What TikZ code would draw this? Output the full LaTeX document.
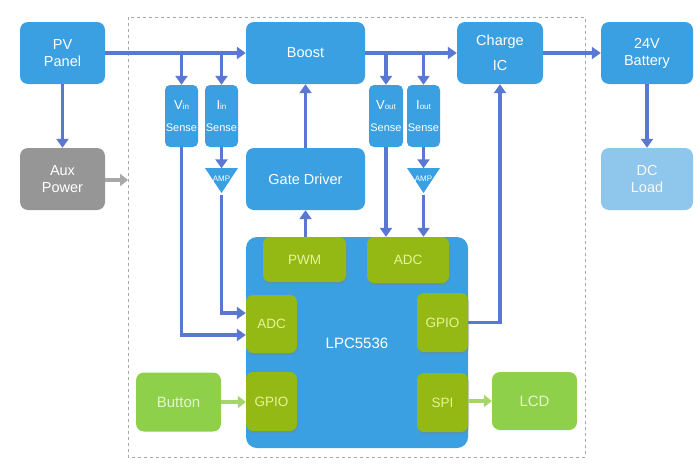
\documentclass[tikz,border=0pt]{standalone}
\usepackage{fontspec}
\setmainfont{Liberation Sans}
\usetikzlibrary{arrows.meta,shadows}
\definecolor{bluebox}{HTML}{3AA0E1}
\definecolor{grayboxc}{HTML}{969696}
\definecolor{loadc}{HTML}{8EC7EB}
\definecolor{modc}{HTML}{94B814}
\definecolor{modtxt}{HTML}{E6F59A}
\definecolor{extg}{HTML}{8ED04A}
\definecolor{extgtxt}{HTML}{E4F7CC}
\definecolor{linec}{HTML}{5A78D2}
\definecolor{greenarr}{HTML}{A6D56A}
\definecolor{grayarr}{HTML}{A8A8A8}
\definecolor{dashc}{HTML}{A8A8A8}
\tikzset{
  bbox/.style={fill=bluebox, rounded corners=8pt, text=white, inner sep=0pt, align=center,
    font=\fontsize{14.5}{17}\selectfont},
  sensebox/.style={bbox, rounded corners=5pt, minimum width=33pt, minimum height=62pt,
    font=\fontsize{11}{22}\selectfont},
  modbox/.style={fill=modc, rounded corners=7pt, text=modtxt, inner sep=0pt,
    font=\fontsize{13.5}{16}\selectfont,
    drop shadow={opacity=0.35, shadow xshift=1pt, shadow yshift=-2pt}},
  extbox/.style={fill=extg, rounded corners=8pt, text=extgtxt, inner sep=0pt,
    font=\fontsize{15}{18}\selectfont, minimum width=85pt, minimum height=59pt},
  conn/.style={draw=linec, line width=3.2pt, -{Triangle[width=12pt,length=9pt]}},
  gconn/.style={draw=greenarr, line width=4pt, -{Triangle[width=12pt,length=8pt]}},
  grconn/.style={draw=grayarr, line width=4pt, -{Triangle[width=12pt,length=8pt]}},
  amptri/.style={fill=bluebox},
  amplabel/.style={text=white, inner sep=0pt, minimum width=33pt, minimum height=24pt,
    font=\fontsize{8}{9}\selectfont},
}
\begin{document}
\begin{tikzpicture}[x=1pt,y=-1pt]
\useasboundingbox (0,0) rectangle (700,463);
\fill[white] (0,0) rectangle (700,463);
% dashed frame
\draw[dashc, dashed, line width=0.8pt] (128,17) rectangle (585,457);

% top row
\node[bbox, minimum width=85pt, minimum height=62pt] (pv) at (62.5,53) {PV\\Panel};
\node[bbox, fill=grayboxc, minimum width=85pt, minimum height=62pt] (aux) at (62.5,179) {Aux\\Power};
\node[bbox, minimum width=119pt, minimum height=62pt] (boost) at (305.5,53) {Boost};
\node[bbox, minimum width=119pt, minimum height=62pt] (gate) at (305.5,179) {Gate Driver};
\node[bbox, minimum width=86pt, minimum height=62pt, font=\fontsize{14.5}{25}\selectfont] (charge) at (500,53) {Charge\\IC};
\node[bbox, minimum width=92pt, minimum height=62pt] (bat) at (647,53) {24V\\Battery};
\node[bbox, fill=loadc, text=white!92!loadc, minimum width=92pt, minimum height=62pt] (load) at (647,179) {DC\\Load};

% sense boxes
\node[sensebox] (vin) at (181.5,116) {{\fontsize{13}{14}\selectfont V}{\fontsize{8}{8}\selectfont in}\\Sense};
\node[sensebox] (iin) at (221.5,116) {{\fontsize{13}{14}\selectfont I}{\fontsize{8}{8}\selectfont in}\\Sense};
\node[sensebox, minimum width=34pt] (vout) at (386,116) {{\fontsize{13}{14}\selectfont V}{\fontsize{8}{8}\selectfont out}\\Sense};
\node[sensebox] (iout) at (423.5,116) {{\fontsize{13}{14}\selectfont I}{\fontsize{8}{8}\selectfont out}\\Sense};

% amplifiers
\fill[amptri] (205,168) -- (238,168) -- (221.5,193) -- cycle;
\node[amplabel] (amp1) at (221.5,180.5) {\raisebox{4pt}{AMP}};
\fill[amptri] (407,168) -- (440,168) -- (423.5,193) -- cycle;
\node[amplabel] (amp2) at (423.5,180.5) {\raisebox{4pt}{AMP}};

% MCU
\node[bbox, rounded corners=11pt, minimum width=222pt, minimum height=211pt] (mcu) at (357,342.5) {};
\node[text=white, font=\fontsize{15}{18}\selectfont, inner sep=0pt] (mcul) at (357,343) {LPC5536};
\node[modbox, minimum width=83pt, minimum height=45pt] (pwm) at (304.5,259.5) {PWM};
\node[modbox, minimum width=82pt, minimum height=46pt] (adct) at (408,260) {ADC};
\node[modbox, minimum width=51pt, minimum height=58pt] (adcl) at (271.5,324) {ADC};
\node[modbox, minimum width=51pt, minimum height=59pt] (gpiol) at (271.5,401.5) {GPIO};
\node[modbox, minimum width=51pt, minimum height=59pt] (gpior) at (442.5,322.5) {GPIO};
\node[modbox, minimum width=51pt, minimum height=59pt] (spi) at (442.5,402.5) {SPI};

% external green
\node[extbox] (button) at (178.5,402) {Button};
\node[extbox, minimum height=58pt] (lcd) at (534.5,401) {LCD};

\coordinate (frameL) at (128,180);

% connectors
\draw[conn] (pv.east) -- (boost.west);
\draw[conn] (vin.north |- pv.east) -- (vin.north);
\draw[conn] (iin.north |- pv.east) -- (iin.north);
\draw[conn] (pv.south) -- (aux.north);
\draw[grconn] (aux.east |- frameL) -- (frameL);
\draw[conn] (boost.east) -- (charge.west);
\draw[conn] (vout.north |- boost.east) -- (vout.north);
\draw[conn] (iout.north |- boost.east) -- (iout.north);
\draw[conn] (charge.east) -- (bat.west);
\draw[conn] (bat.south) -- (load.north);
\draw[conn] (gate.north) -- (boost.south);
\draw[conn] (gate.south |- pwm.north) -- (gate.south);
\draw[conn] (iin.south) -- (amp1.north);
\draw[conn] (iout.south) -- (amp2.north);
\draw[conn] ([yshift=-2pt]amp1.south) |- ([yshift=11pt]adcl.west);
\draw[conn] (vin.south) |- ([yshift=-11pt]adcl.west);
\draw[conn] (vout.south) -- (vout.south |- adct.north);
\draw[conn] ([yshift=-2pt]amp2.south) -- (amp2.south |- adct.north);
\draw[conn] (gpior.east) -| (charge.south);
\draw[gconn] (button.east) -- (gpiol.west |- button.east);
\draw[gconn] (spi.east |- lcd.west) -- (lcd.west);
\end{tikzpicture}
\end{document}
